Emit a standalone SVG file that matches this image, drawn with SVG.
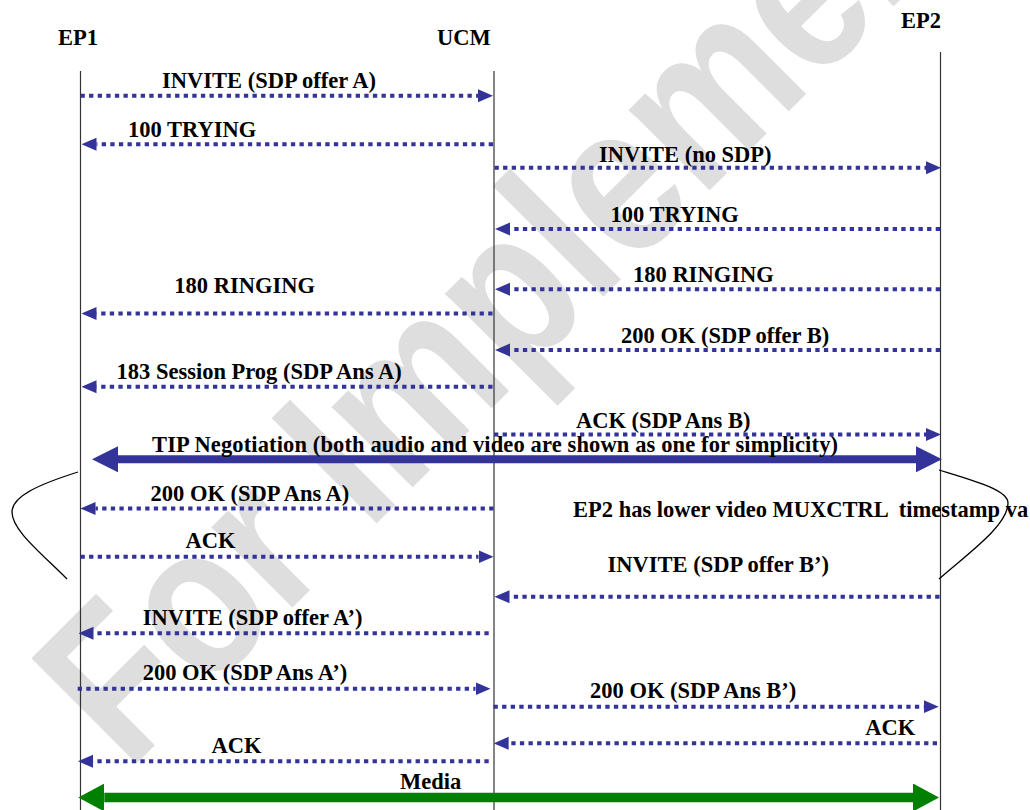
<svg xmlns="http://www.w3.org/2000/svg" width="1030" height="810" viewBox="0 0 1030 810">
<style>
.lbl{font-family:"Liberation Serif","Times New Roman",serif;font-weight:bold;font-size:22.5px;fill:#000;white-space:pre}
.life{stroke:#333;stroke-width:1.2;fill:none}
.msg{stroke:#333399;stroke-width:4;stroke-dasharray:4.3 4.3;fill:none;marker-end:url(#ah)}
.brace{stroke:#000;stroke-width:1.3;fill:none}
.wm{font-family:"Liberation Sans",Arial,sans-serif;font-weight:bold;font-size:180px;fill:#dedede}
</style>
<defs>
<marker id="ah" markerUnits="userSpaceOnUse" markerWidth="15" markerHeight="14" viewBox="0 0 15 14" refX="0" refY="7" orient="auto"><path d="M0,0.5 L15,7 L0,13.5 z" fill="#333399"/></marker>
<marker id="bh" markerUnits="userSpaceOnUse" markerWidth="26" markerHeight="26" viewBox="0 0 26 26" refX="0" refY="13" orient="auto-start-reverse"><path d="M0,0 L26,13 L0,26 z" fill="#333399"/></marker>
<marker id="gh" markerUnits="userSpaceOnUse" markerWidth="26" markerHeight="28" viewBox="0 0 26 28" refX="0" refY="14" orient="auto-start-reverse"><path d="M0,0 L26,14 L0,28 z" fill="#008000"/></marker>
</defs>
<rect width="1030" height="810" fill="#fff"/>
<text class="wm" transform="translate(128,772) rotate(-45) scale(1,1.2)">For Implementation</text>
<g id="ep1"><text class="lbl" x="58" y="45">EP1</text><line class="life" x1="80.5" y1="71" x2="80.5" y2="810"/></g>
<g id="ucm"><text class="lbl" x="437" y="45">UCM</text><line class="life" x1="494" y1="71" x2="494" y2="810"/></g>
<g id="ep2"><text class="lbl" x="901" y="28">EP2</text><line class="life" x1="940.5" y1="52" x2="940.5" y2="810"/></g>
<g id="braces">
<path class="brace" d="M78,472 C40,484 12,496 12,512 C12,530 40,552 67,579"/>
<path class="brace" d="M939,470 C975,481 1008,490 1008,503 C1008,525 970,552 939,579"/>
</g>
<g id="connectors">
<line class="msg" x1="80.5" y1="95.7" x2="478" y2="95.7"/>
<line class="msg" x1="493" y1="144.3" x2="96.5" y2="144.3"/>
<line class="msg" x1="494.5" y1="167.7" x2="926" y2="167.7"/>
<line class="msg" x1="940" y1="229" x2="510" y2="229"/>
<line class="msg" x1="940" y1="289.3" x2="510" y2="289.3"/>
<line class="msg" x1="492.5" y1="313.5" x2="96.5" y2="313.5"/>
<line class="msg" x1="940" y1="350" x2="510" y2="350"/>
<line class="msg" x1="492.5" y1="386.8" x2="96.5" y2="386.8"/>
<line class="msg" x1="494" y1="434.5" x2="926" y2="434.5"/>
<line x1="118" y1="459.3" x2="916" y2="459.3" stroke="#333399" stroke-width="8" marker-start="url(#bh)" marker-end="url(#bh)"/>
<line class="msg" x1="493.5" y1="508.5" x2="95.5" y2="508.5"/>
<line class="msg" x1="80.5" y1="556.8" x2="478.5" y2="556.8"/>
<line class="msg" x1="939.5" y1="596.7" x2="509.5" y2="596.7"/>
<line class="msg" x1="488.7" y1="633.3" x2="93.5" y2="633.3"/>
<line class="msg" x1="77.7" y1="688.8" x2="475.5" y2="688.8"/>
<line class="msg" x1="493.5" y1="706.7" x2="923.7" y2="706.7"/>
<line class="msg" x1="937" y1="743.3" x2="508.6" y2="743.3"/>
<line class="msg" x1="488.7" y1="761.3" x2="93" y2="761.3"/>
<line x1="104.3" y1="797.5" x2="913" y2="797.5" stroke="#008000" stroke-width="9.5" marker-start="url(#gh)" marker-end="url(#gh)"/>
<text class="lbl" x="162" y="88">INVITE (SDP offer A)</text>
<text class="lbl" x="128" y="136.5">100 TRYING</text>
<text class="lbl" x="599" y="161.7">INVITE (no SDP)</text>
<text class="lbl" x="610.5" y="221.7">100 TRYING</text>
<text class="lbl" x="633" y="282.3">180 RINGING</text>
<text class="lbl" x="174.3" y="293.3">180 RINGING</text>
<text class="lbl" x="621" y="342.7">200 OK (SDP offer B)</text>
<text class="lbl" x="116.5" y="379.2">183 Session Prog (SDP Ans A)</text>
<text class="lbl" x="576" y="427.7">ACK (SDP Ans B)</text>
<text class="lbl" x="152" y="451.7" textLength="686">TIP Negotiation (both audio and video are shown as one for simplicity)</text>
<text class="lbl" x="150.5" y="500.7">200 OK (SDP Ans A)</text>
<text class="lbl" x="573" y="516.7" xml:space="preserve">EP2 has lower video MUXCTRL  timestamp va</text>
<text class="lbl" x="185.5" y="548.3">ACK</text>
<text class="lbl" x="607.5" y="571.7">INVITE (SDP offer B’)</text>
<text class="lbl" x="142.7" y="625">INVITE (SDP offer A’)</text>
<text class="lbl" x="142.7" y="680">200 OK (SDP Ans A’)</text>
<text class="lbl" x="590" y="698.3">200 OK (SDP Ans B’)</text>
<text class="lbl" x="865.3" y="735">ACK</text>
<text class="lbl" x="211.5" y="753.3">ACK</text>
<text class="lbl" x="400" y="789">Media</text>
</g>
</svg>
